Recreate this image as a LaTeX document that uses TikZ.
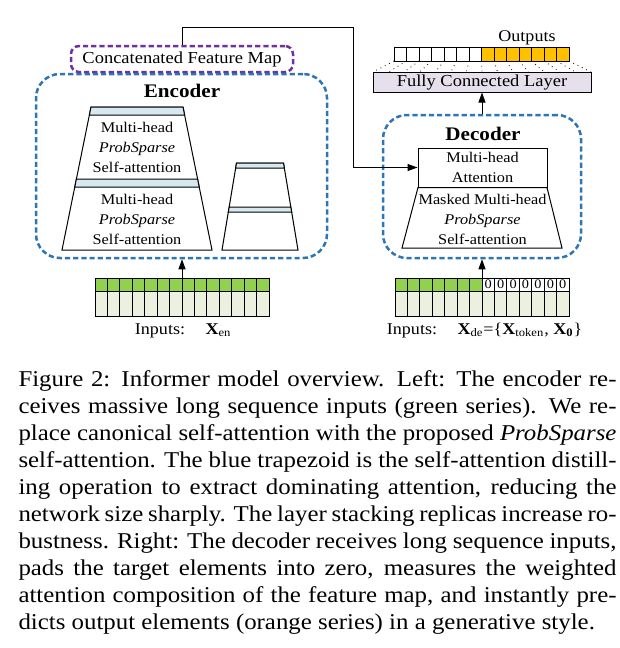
\documentclass[tikz,border=0pt]{standalone}
\usepackage{fontspec}
\setmainfont{Liberation Serif}[FakeStretch=1.1]
\usetikzlibrary{arrows.meta}

\definecolor{barblue}{RGB}{216,232,240}
\definecolor{ingreen}{RGB}{146,208,80}
\definecolor{inlight}{RGB}{235,241,222}
\definecolor{outorange}{RGB}{255,192,0}
\definecolor{fclilac}{RGB}{230,224,236}
\definecolor{mappurple}{RGB}{112,48,160}
\definecolor{boxblue}{RGB}{46,117,182}

\hyphenpenalty=10000
\exhyphenpenalty=10000
\tolerance=10000

\begin{document}
\begin{tikzpicture}[x=0.5pt, y=-0.5pt, line width=0.5pt]
    % Define styles
    \tikzstyle{stack} = [draw=boxblue, line width=1.25pt, dash pattern=on 2.6pt off 1.5pt, rounded corners=12pt, inner sep=0pt]
    \tikzstyle{featbox} = [draw=mappurple, line width=1.25pt, dash pattern=on 2.6pt off 1.5pt, rounded corners=4pt, inner sep=0pt, font=\fontsize{8.4}{10}\selectfont]
    \tikzstyle{title} = [inner sep=0pt, anchor=base, font=\fontsize{9.6}{11}\selectfont\bfseries]
    \tikzstyle{module} = [rectangle, draw, fill=white, inner sep=0pt, align=center, font=\fontsize{7.4}{10}\selectfont]
    \tikzstyle{modtext} = [inner sep=0pt, align=center, font=\fontsize{7.4}{10}\selectfont]
    \tikzstyle{fc} = [rectangle, draw, fill=fclilac, inner sep=0pt, minimum width=109pt, minimum height=10pt, font=\fontsize{8.4}{10}\selectfont]
    \tikzstyle{grid} = [inner sep=0pt, minimum width=87pt, minimum height=19pt]
    \tikzstyle{label} = [inner sep=0pt, anchor=base, font=\fontsize{8.2}{10}\selectfont]
    \tikzstyle{zero} = [inner sep=0pt, font=\fontsize{6.5}{7}\selectfont]
    \tikzstyle{caption} = [inner sep=0pt, anchor=north west, text width=299pt, align=justify, font=\fontsize{11.3}{13.5}\selectfont]
    \tikzstyle{line} = [draw, -{Triangle[length=5pt, width=3.5pt]}]

    \useasboundingbox (0,0) rectangle (620,648);

    % Place nodes - boxes
    \node [featbox, minimum width=111pt, minimum height=13pt] (featmap) at (182,59) {Concatenated Feature Map};
    \node [stack, minimum width=145.5pt, minimum height=92pt] (encoder) at (181.5,166) {};
    \node [stack, minimum width=99pt, minimum height=71.5pt] (decoder) at (482,186.5) {};
    \node [title] (enctitle) at (182,97) {Encoder};
    \node [title] (dectitle) at (483,140) {Decoder};

    % Encoder stack
    \filldraw [fill=white] (91,107) -- (183,107) -- (212,250) -- (62,250) -- cycle;
    \filldraw [fill=barblue] (91,107) -- (183,107) -- (184.6,115) -- (89.4,115) -- cycle;
    \filldraw [fill=barblue] (76.4,179) -- (197.6,179) -- (199.2,187) -- (74.8,187) -- cycle;
    \node [modtext] (upperatt) at (137,147) {Multi-head\\\textit{ProbSparse}\\Self-attention};
    \node [modtext] (loweratt) at (137,219) {Multi-head\\\textit{ProbSparse}\\Self-attention};

    % Replica stack
    \filldraw [fill=white] (236.5,163) -- (283.5,163) -- (298,250) -- (222,250) -- cycle;
    \filldraw [fill=barblue] (236.5,163) -- (283.5,163) -- (284.3,168) -- (235.7,168) -- cycle;
    \filldraw [fill=barblue] (229.2,207) -- (290.8,207) -- (291.7,212) -- (228.3,212) -- cycle;

    % Decoder stack
    \filldraw [fill=white] (418,187.5) -- (547,187.5) -- (562,248) -- (402,248) -- cycle;
    \node [modtext] (maskatt) at (482.5,219) {Masked Multi-head\\\textit{ProbSparse}\\Self-attention};
    \node [module, minimum width=64.5pt, minimum height=19.5pt] (mha) at (482.5,167.5) {Multi-head\\Attention};

    % Fully connected layer and outputs
    \node [fc] (fclayer) at (482,82) {Fully Connected Layer};
    \foreach \i in {0,...,6}
        \draw [fill=white] ({394+12.5*\i},47) rectangle ++(12.5,14);
    \foreach \i in {7,...,13}
        \draw [fill=outorange] ({394+12.5*\i},47) rectangle ++(12.5,14);
    \foreach \i in {0,...,14}
        \draw [dotted, line width=0.4pt] ({394+12.5*\i},61) -- ({373+15.57*\i},72);
    \node [label] (outputs) at (527,41) {Outputs};

    % Encoder inputs
    \node [grid] (eninputs) at (182,297) {};
    \fill [ingreen] (95,278) rectangle (269,291);
    \fill [inlight] (95,291) rectangle (269,316);
    \draw (95,278) rectangle (269,316) (95,291) -- (269,291);
    \foreach \i in {1,...,13}
        \draw ({95+12.43*\i},278) -- ++(0,38);
    \node [label] (eninlabel) at (160,334) {Inputs:};
    \node [label, anchor=base west] (enx) at (205,334) {\textbf{X}\textsubscript{en}};

    % Decoder inputs
    \node [grid] (deinputs) at (482,297) {};
    \fill [ingreen] (395,278) rectangle (482,291);
    \fill [inlight] (395,291) rectangle (569,316);
    \draw (395,278) rectangle (569,316) (395,291) -- (569,291);
    \foreach \i in {1,...,13}
        \draw ({395+12.43*\i},278) -- ++(0,38);
    \foreach \i in {7,...,13}
        \node [zero] (zero\i) at ({401.2+12.43*\i},284.5) {0};
    \node [label] (deinlabel) at (412,334) {Inputs:};
    \node [label, anchor=base west] (dex) at (457,334) {\textbf{X}\textsubscript{de}=\{\textbf{X}\textsubscript{token}, \textbf{X}\textsubscript{\textbf{0}}\}};

    % Draw edges
    \coordinate (turn) at (353,27);
    \path [line] (featmap.north) |- (turn) |- (mha.west);
    \path [line] (eninputs.north) -- (eninputs.north |- encoder.south);
    \path [line] (deinputs.north) -- (deinputs.north |- decoder.south);
    \path [line] (decoder.north) -- (decoder.north |- fclayer.south);

    % Caption
    \node [caption] (figcaption) at (18,370) {Figure 2: Informer model overview. Left: The encoder re-\linebreak
    ceives massive long sequence inputs (green series). We re-\linebreak
    place canonical self-attention with the proposed \textit{ProbSparse}\linebreak
    self-attention. The blue trapezoid is the self-attention distill-\linebreak
    ing operation to extract dominating attention, reducing the\linebreak
    network size sharply. The layer stacking replicas increase ro-\linebreak
    bustness. Right: The decoder receives long sequence inputs,\linebreak
    pads the target elements into zero, measures the weighted\linebreak
    attention composition of the feature map, and instantly pre-\linebreak
    dicts output elements (orange series) in a generative style.};
\end{tikzpicture}
\end{document}
